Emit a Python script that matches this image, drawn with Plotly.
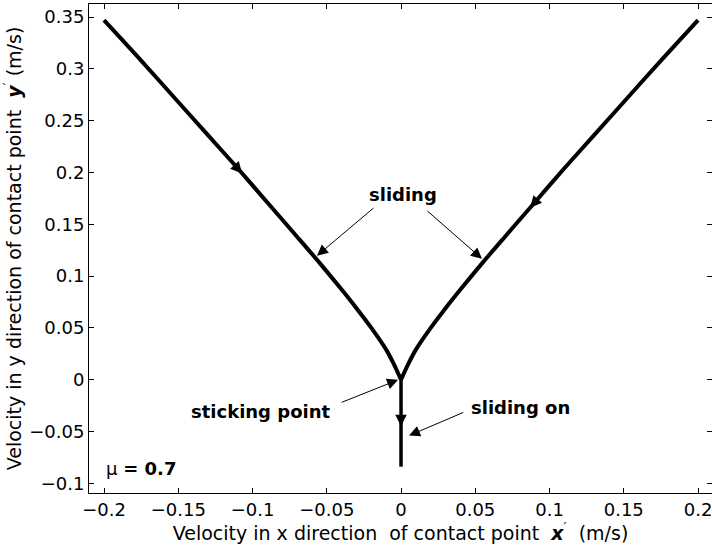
import plotly.graph_objects as go
import numpy as np

# ---- data ----
x_right = [0.0, 0.005, 0.01, 0.02, 0.03, 0.04, 0.055, 0.07, 0.09, 0.11, 0.13, 0.15, 0.175, 0.2]
y_curve = [0.0, 0.0155, 0.029, 0.050, 0.069, 0.087, 0.113, 0.138, 0.171, 0.204, 0.236, 0.268, 0.308, 0.347]
x_left = [-v for v in x_right]
x_stick = [0.0, 0.0]
y_stick = [0.0, -0.084]

x_ticks = [-0.2, -0.15, -0.1, -0.05, 0, 0.05, 0.1, 0.15, 0.2]
x_ticklabels = ["\u22120.2", "\u22120.15", "\u22120.1", "\u22120.05", "0", "0.05", "0.1", "0.15", "0.2"]
y_ticks = [-0.1, -0.05, 0, 0.05, 0.1, 0.15, 0.2, 0.25, 0.3, 0.35]
y_ticklabels = ["\u22120.1", "\u22120.05", "0", "0.05", "0.1", "0.15", "0.2", "0.25", "0.3", "0.35"]

FONT = "DejaVu Sans, Liberation Sans, Arial, sans-serif"

fig = go.Figure()
line_style = dict(color="black", width=4, shape="spline", smoothing=0.8)
fig.add_trace(go.Scatter(x=x_left, y=y_curve, mode="lines", line=line_style, showlegend=False, hoverinfo="skip"))
fig.add_trace(go.Scatter(x=x_right, y=y_curve, mode="lines", line=line_style, showlegend=False, hoverinfo="skip"))
fig.add_trace(go.Scatter(x=x_stick, y=y_stick, mode="lines", line=dict(color="black", width=3.5),
                         showlegend=False, hoverinfo="skip"))

def interp_curve(xq):
    return float(np.interp(abs(xq), x_right, y_curve))

# direction arrows on the curves (heads sitting on the thick line)
def flow_arrow(x_tail, x_tip):
    fig.add_annotation(x=x_tip, y=interp_curve(x_tip), ax=x_tail, ay=interp_curve(x_tail),
                       xref="x", yref="y", axref="x", ayref="y", text="", showarrow=True,
                       arrowhead=2, arrowsize=1.15, arrowwidth=2, arrowcolor="black")

flow_arrow(-0.118, -0.107)
flow_arrow(0.097, 0.087)
fig.add_annotation(x=0, y=-0.045, ax=0, ay=-0.03, xref="x", yref="y", axref="x", ayref="y",
                   text="", showarrow=True, arrowhead=2, arrowsize=1.15, arrowwidth=2, arrowcolor="black")

# labelled pointer arrows
def pointer(x_tail, y_tail, x_tip, y_tip):
    fig.add_annotation(x=x_tip, y=y_tip, ax=x_tail, ay=y_tail, xref="x", yref="y", axref="x", ayref="y",
                       text="", showarrow=True, arrowhead=2, arrowsize=2.2, arrowwidth=1, arrowcolor="black")

pointer(-0.0175, 0.1669, -0.0566, 0.1196)
pointer(0.0168, 0.164, 0.0545, 0.1167)
pointer(-0.041, -0.0225, -0.002, -0.0002)
pointer(0.043, -0.031, 0.0054, -0.054)

def label(x, y, text, anchor="center"):
    fig.add_annotation(x=x, y=y, xref="x", yref="y", text=text, showarrow=False, xanchor=anchor,
                       yanchor="middle", font=dict(family=FONT, size=18, color="black"))

label(0.0013, 0.179, "<b>sliding</b>")
label(-0.094, -0.031, "<b>sticking point</b>")
label(0.0455, -0.027, "<b>sliding on</b>", anchor="left")
label(-0.2, -0.0853, "\u03bc <b>= 0.7</b>", anchor="left")

axis_common = dict(showline=True, linecolor="black", linewidth=1, mirror="ticks", ticks="inside",
                   ticklen=5, tickcolor="black", showgrid=False, zeroline=False,
                   ticklabeloverflow="allow",
                   tickfont=dict(family=FONT, size=18, color="black"))

fig.update_xaxes(range=[-0.2101, 0.2094], tickvals=x_ticks, ticktext=x_ticklabels,
                 title=dict(text="Velocity in x direction\u00a0 of contact point\u00a0 <b><i>x</i></b><sup>\u2032</sup>\u00a0 (m/s)",
                            font=dict(family=FONT, size=19, color="black"), standoff=4),
                 **axis_common)
fig.update_yaxes(range=[-0.1094, 0.3626], tickvals=y_ticks, ticktext=y_ticklabels,
                 title=dict(text="Velocity in y direction of contact point\u00a0 <b><i>y</i></b><sup>\u2032</sup> (m/s)",
                            font=dict(family=FONT, size=19, color="black"), standoff=2),
                 **axis_common)

fig.update_layout(width=712, height=557, margin=dict(l=89, r=0, t=4, b=64, autoexpand=False),
                  plot_bgcolor="white", paper_bgcolor="white", font=dict(family=FONT, color="black"))

fig.write_html("out.html")
